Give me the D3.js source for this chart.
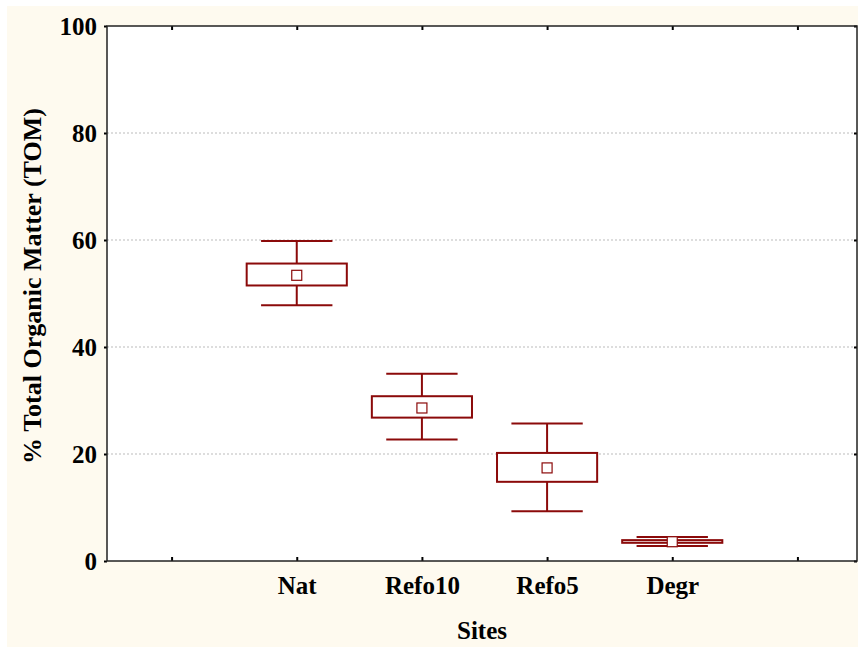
<!DOCTYPE html>
<html>
<head>
<meta charset="utf-8">
<script src="https://cdn.jsdelivr.net/npm/d3@7"></script>
<style>
  body { margin: 0; background: #fff; }
  svg text { font-family: "Liberation Serif", "Times New Roman", serif; font-weight: bold; fill: #000; }
</style>
</head>
<body>
<svg id="chart" width="858" height="647"></svg>
<script>
// slots on the x axis (empty ones at both ends)
const slots = [``, `Nat`, `Refo10`, `Refo5`, `Degr`, ` `];
const sites = [`Nat`, `Refo10`, `Refo5`, `Degr`];
const means = [53.4, 28.6, 17.4, 3.6];
const boxLow = [51.5, 26.8, 14.8, 3.4];
const boxHigh = [55.6, 30.8, 20.2, 3.9];
const whiskLow = [47.8, 22.7, 9.3, 2.8];
const whiskHigh = [59.8, 35.0, 25.7, 4.5];
const yTicks = [0, 20, 40, 60, 80, 100];

const width = 858;
const height = 647;
const plotL = 107, plotR = 857, plotT = 26, plotB = 561;
const red = `#8b0a0a`;

const svg = d3.select(`#chart`);

svg.append(`rect`)
    .attr(`x`, 7).attr(`y`, 6)
    .attr(`width`, width - 7).attr(`height`, height - 6)
    .attr(`fill`, `#fefaef`);

svg.append(`rect`)
    .attr(`x`, plotL).attr(`y`, plotT)
    .attr(`width`, plotR - plotL).attr(`height`, plotB - plotT)
    .attr(`fill`, `#fff`);

const xScale = d3.scalePoint()
    .domain(slots)
    .range([plotL + 2, plotR + 3])
    .padding(0.5);
const band = xScale.step();

const yScale = d3.scaleLinear()
    .domain([0, 100])
    .range([plotB, plotT]);

// gridlines
svg.append(`g`)
    .selectAll(`line`)
    .data(yTicks.filter(d => d > 0 && d < 100))
    .enter()
    .append(`line`)
    .attr(`x1`, plotL).attr(`x2`, plotR)
    .attr(`y1`, d => yScale(d)).attr(`y2`, d => yScale(d))
    .attr(`stroke`, `#bbb`)
    .attr(`stroke-width`, 1)
    .attr(`stroke-dasharray`, `2,2`);

// axes
const yAxisLeft = svg.append(`g`)
    .attr(`transform`, `translate(${plotL},0)`)
    .call(d3.axisLeft(yScale).tickValues(yTicks).tickSize(3).tickPadding(7));
yAxisLeft.select(`.domain`).remove();
yAxisLeft.selectAll(`text`).attr(`font-size`, `25px`).attr(`dy`, `0.34em`);

const yAxisRight = svg.append(`g`)
    .attr(`transform`, `translate(${plotR},0)`)
    .call(d3.axisLeft(yScale).tickValues(yTicks).tickSize(3).tickFormat(``));
yAxisRight.select(`.domain`).remove();

const xAxisBottom = svg.append(`g`)
    .attr(`transform`, `translate(0,${plotB})`)
    .call(d3.axisTop(xScale).tickSize(4).tickFormat(``));
xAxisBottom.select(`.domain`).remove();

const xLabels = svg.append(`g`)
    .attr(`transform`, `translate(0,${plotB})`)
    .call(d3.axisBottom(xScale).tickSize(0).tickPadding(0));
xLabels.select(`.domain`).remove();
xLabels.selectAll(`text`).attr(`font-size`, `25px`).attr(`dy`, null).attr(`y`, 33);

const xAxisTop = svg.append(`g`)
    .attr(`transform`, `translate(0,${plotT})`)
    .call(d3.axisBottom(xScale).tickSize(4).tickFormat(``));
xAxisTop.select(`.domain`).remove();

svg.selectAll(`.tick line`).attr(`stroke`, `#000`).attr(`stroke-width`, 2);

// frame
svg.append(`rect`)
    .attr(`x`, plotL).attr(`y`, plotT)
    .attr(`width`, plotR - plotL).attr(`height`, plotB - plotT)
    .attr(`fill`, `none`)
    .attr(`stroke`, `#222`)
    .attr(`stroke-width`, 1.5);

// boxes
const boxW = band * 0.8;
const capW = band * 0.57;
const groups = svg.selectAll(`.site`)
    .data(sites)
    .enter()
    .append(`g`)
    .attr(`class`, `site`);

groups.append(`line`)
    .attr(`x1`, d => xScale(d)).attr(`x2`, d => xScale(d))
    .attr(`y1`, (d, i) => yScale(whiskHigh[i]))
    .attr(`y2`, (d, i) => yScale(whiskLow[i]))
    .attr(`stroke`, red).attr(`stroke-width`, 2);

groups.append(`line`)
    .attr(`x1`, d => xScale(d) - capW / 2).attr(`x2`, d => xScale(d) + capW / 2)
    .attr(`y1`, (d, i) => yScale(whiskHigh[i]))
    .attr(`y2`, (d, i) => yScale(whiskHigh[i]))
    .attr(`stroke`, red).attr(`stroke-width`, 2);

groups.append(`line`)
    .attr(`x1`, d => xScale(d) - capW / 2).attr(`x2`, d => xScale(d) + capW / 2)
    .attr(`y1`, (d, i) => yScale(whiskLow[i]))
    .attr(`y2`, (d, i) => yScale(whiskLow[i]))
    .attr(`stroke`, red).attr(`stroke-width`, 2);

groups.append(`rect`)
    .attr(`x`, d => xScale(d) - boxW / 2)
    .attr(`y`, (d, i) => yScale(boxHigh[i]))
    .attr(`width`, boxW)
    .attr(`height`, (d, i) => yScale(boxLow[i]) - yScale(boxHigh[i]))
    .attr(`fill`, `#fff`)
    .attr(`stroke`, red).attr(`stroke-width`, 2);

groups.append(`rect`)
    .attr(`x`, d => xScale(d) - 5)
    .attr(`y`, (d, i) => yScale(means[i]) - 5)
    .attr(`width`, 10).attr(`height`, 10)
    .attr(`fill`, `#fff`)
    .attr(`stroke`, red).attr(`stroke-width`, 1.2);

// axis titles
svg.append(`text`)
    .attr(`x`, 482).attr(`y`, 639)
    .attr(`text-anchor`, `middle`)
    .attr(`font-size`, `25px`)
    .text(`Sites`);

svg.append(`text`)
    .attr(`transform`, `translate(41,286) rotate(-90)`)
    .attr(`text-anchor`, `middle`)
    .attr(`font-size`, `26px`)
    .text(`% Total Organic Matter (TOM)`);
</script>
</body>
</html>
